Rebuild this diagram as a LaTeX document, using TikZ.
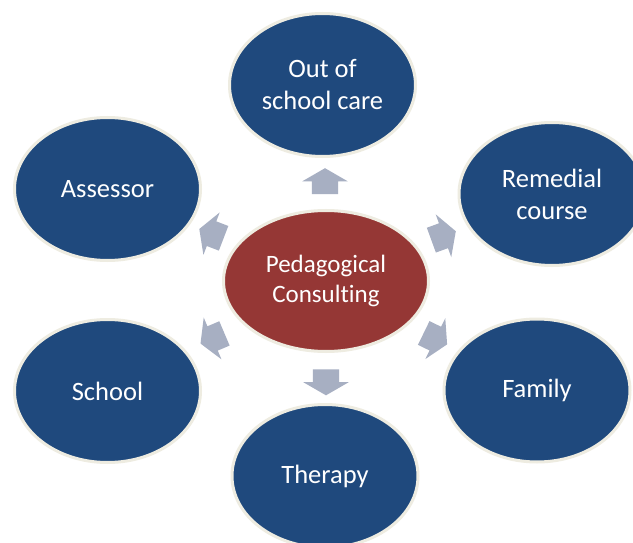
\documentclass[tikz,border=0pt]{standalone}
\usepackage{fontspec}
\setmainfont[Ligatures=NoCommon]{Carlito}
\usetikzlibrary{shapes.geometric,shapes.arrows}
\definecolor{dblue}{HTML}{1F497D}
\definecolor{dred}{HTML}{953735}
\definecolor{rim}{HTML}{EEECE1}
\definecolor{agray}{HTML}{A7AFC2}
\tikzset{
  outer/.style={ellipse, fill=dblue, draw=rim, line width=3pt,
    minimum width=186pt, minimum height=143pt, inner sep=0pt,
    text=white, align=center, font=\fontsize{26.5}{32}\selectfont},
  inner/.style={ellipse, fill=dred, draw=rim, line width=3pt,
    minimum width=205pt, minimum height=141pt, inner sep=0pt,
    text=white, align=center, font=\fontsize{25}{30}\selectfont},
  garrow/.style={single arrow, fill=agray, draw=none, inner sep=0pt,
    minimum height=26pt,
    single arrow head extend=9.5pt, single arrow tip angle=120}
}
\newcommand{\shaftrule}{\rule{0pt}{26pt}}
\begin{document}
\begin{tikzpicture}[x=1pt,y=-1pt]
\useasboundingbox (0,0) rectangle (633,543);
\clip (0,0) rectangle (633,543);
\fill[white] (0,0) rectangle (633,543);

\node[inner] (c) at (326,281) {Pedagogical\\Consulting};

\node[outer] (top) at (322.5,85) {Out of\\school care};
\node[outer] (rem) at (552,194) {Remedial\\course};
\node[outer] (ass) at (107.5,189) {Assessor};
\node[outer] (sch) at (107.5,391) {School};
\node[outer] (fam) at (537,390.5) {Family};
\node[outer] (the) at (325,476) {Therapy};

\node[garrow, rotate=90]  (a1) at (325,185) {\shaftrule};
\node[garrow, rotate=270] (a2) at (326,378.5) {\shaftrule};
\node[garrow, rotate=159] (a3) at (215,235) {\shaftrule};
\node[garrow, rotate=20]  (a4) at (440,237) {\shaftrule};
\node[garrow, rotate=203] (a5) at (216,337) {\shaftrule};
\node[garrow, rotate=-26] (a6) at (432,337) {\shaftrule};
\end{tikzpicture}
\end{document}
